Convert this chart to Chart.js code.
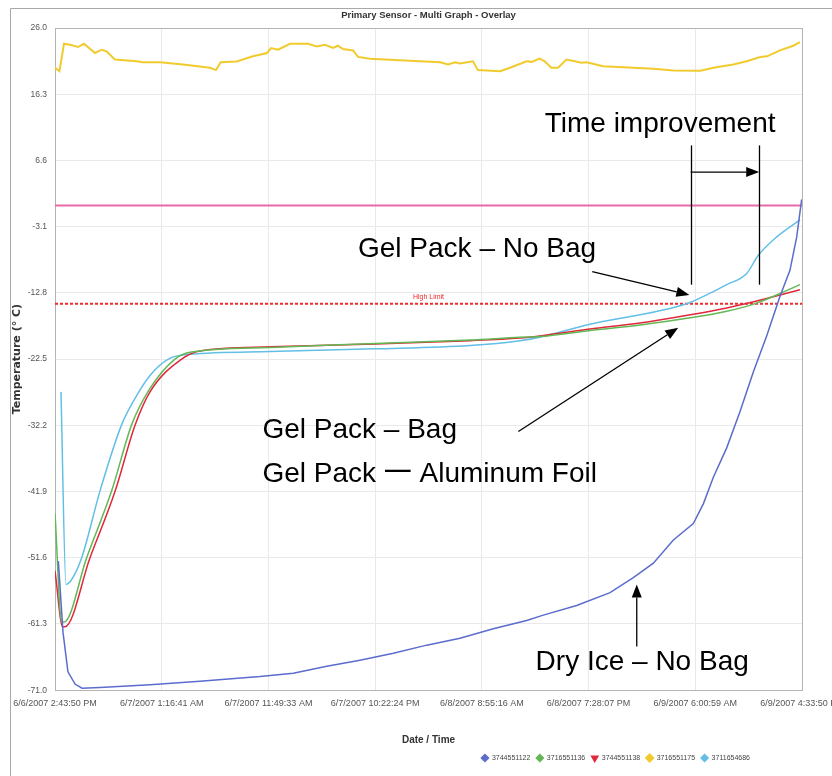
<!DOCTYPE html>
<html>
<head>
<meta charset="utf-8">
<title>Primary Sensor - Multi Graph - Overlay</title>
<script src="https://cdn.jsdelivr.net/npm/chart.js@4.4.1/dist/chart.umd.min.js"></script>
<style>
  html, body { margin: 0; padding: 0; background: #fff; overflow: hidden; }
  canvas { display: block; }
</style>
</head>
<body>
<canvas id="chart" width="832" height="776"></canvas>
<script>
// x values are hours after the first reading, 6/6/2007 2:43:50 PM
const X_TICK_LABELS = [
  '6/6/2007 2:43:50 PM', '6/7/2007 1:16:41 AM', '6/7/2007 11:49:33 AM', '6/7/2007 10:22:24 PM',
  '6/8/2007 8:55:16 AM', '6/8/2007 7:28:07 PM', '6/9/2007 6:00:59 AM', '6/9/2007 4:33:50 PM'
];
const X_TICK_STEP = 10 + 32 / 60 + 51 / 3600;   // 10:32:51 between labels
const Y_TICKS = [-71.0, -61.3, -51.6, -41.9, -32.2, -22.5, -12.8, -3.1, 6.6, 16.3, 26.0];

const SERIES_NAMES = ['3744551122', '3716551136', '3744551138', '3716551175', '3711654686'];

// 3744551122 - dry ice, no bag
const DRY_ICE_HOURS = [0.33, 0.79, 1.28, 1.98, 2.67, 4.45, 9.39, 14.33, 20.26, 23.55, 26.86, 30.15, 33.44,
  36.74, 40.03, 43.32, 46.62, 48.26, 51.56, 54.86, 57.16, 59.14, 61.12, 63.09, 64.08, 65.07, 66.39, 67.70,
  69.02, 70.34, 71.66, 72.64, 73.31, 73.80];
const DRY_ICE_TEMP = [-52.1, -62.5, -68.3, -70.1, -70.7, -70.6, -70.2, -69.7, -69.0, -68.5, -67.5, -66.6, -65.6,
  -64.4, -63.4, -62.0, -60.8, -60.0, -58.6, -56.7, -54.5, -52.4, -49.0, -46.6, -43.7, -39.8, -35.5, -30.2,
  -24.4, -19.1, -13.3, -9.5, -4.6, 0.9];

// 3716551136 - gel pack, aluminum foil
const FOIL_HOURS = [0, 0.66, 0.9, 3.13, 5.6, 7.58, 9.39, 11.86, 13.34, 21.25, 31.63, 41.02, 45.96, 47.9,
  52.88, 57.82, 62.8, 66.39, 69.36, 71.66, 73.63];
const FOIL_TEMP = [-45.1, -61.0, -61.0, -51.6, -41.8, -32.1, -26.8, -22.5, -21.5, -20.8, -20.2, -19.7, -19.3, -19.2,
  -18.3, -17.5, -16.45, -15.5, -14.3, -12.9, -11.6];

// 3744551138 - gel pack, bag
const BAG_HOURS = [0, 0.76, 0.99, 3.46, 5.93, 7.91, 9.39, 12.52, 14.33, 21.25, 31.63, 41.02, 45.96, 47.9,
  52.88, 57.82, 62.8, 66.39, 69.36, 71.66, 73.63];
const BAG_TEMP = [-53.5, -61.7, -61.7, -51.6, -41.9, -32.2, -27.3, -22.5, -21.3, -20.7, -20.3, -19.8, -19.4, -19.1,
  -18.1, -17.2, -16.0, -15.0, -14.0, -13.1, -12.35];

// 3716551175 - ambient
const AMBIENT_HOURS = [0, 0.44, 0.89, 1.48, 2.27, 2.87, 3.95, 4.61, 5.11, 5.93, 8.08, 8.67, 10.38, 12.65, 15.32,
  15.91, 16.38, 17.95, 19.57, 20.95, 21.35, 22.04, 23.23, 25.01, 25.87, 26.69, 27.48, 27.97, 28.47, 29.46,
  29.95, 31.14, 34.1, 36.08, 38.06, 38.85, 39.54, 40.03, 41.31, 41.8, 44.0, 44.97, 46.62, 47.11, 47.9, 48.4,
  49.06, 49.72, 50.55, 51.38, 52.04, 52.54, 54.18, 57.16, 59.14, 61.12, 63.8, 65.07, 67.05, 68.37, 69.7,
  70.38, 71.66, 72.97, 73.63];
const AMBIENT_TEMP = [20.17, 19.68, 23.69, 23.54, 23.21, 23.69, 22.34, 22.82, 22.57, 21.37, 21.13, 20.98, 20.98,
  20.65, 20.17, 19.83, 20.98, 21.09, 21.85, 22.34, 23.07, 22.82, 23.69, 23.69, 23.3, 23.54, 23.07, 23.4, 22.92,
  22.72, 21.76, 21.48, 21.27, 21.13, 20.98, 20.65, 20.98, 20.8, 21.13, 19.83, 19.68, 20.17, 21.13, 21.04, 21.52,
  21.13, 20.17, 20.17, 21.37, 21.13, 20.9, 20.98, 20.4, 20.17, 20.03, 19.78, 19.74, 20.17, 20.65, 21.13, 21.76,
  21.85, 22.72, 23.4, 23.93];

// 3711654686 - gel pack, no bag
const NO_BAG_HOURS = [0.59, 1.09, 1.55, 2.64, 4.45, 6.59, 7.74, 9.39, 11.2, 13.34, 21.25, 31.63, 41.02, 45.96,
  47.9, 52.88, 57.82, 60.46, 62.44, 64.41, 66.39, 68.37, 69.51, 71.33, 73.63];
const NO_BAG_TEMP = [-27.3, -55.5, -55.0, -51.6, -41.8, -32.1, -28.7, -24.9, -22.5, -21.8, -21.4, -21.0, -20.5,
  -19.8, -19.3, -17.4, -16.0, -15.2, -14.4, -13.1, -11.6, -9.95, -7.3, -4.6, -2.1];

const LIMIT_LINE = 0.0;
const HIGH_LIMIT = -14.4;

const X_MAX = (X_TICK_LABELS.length - 1) * X_TICK_STEP;

const FONT = "'Liberation Sans', Arial, sans-serif";
const GRID = '#e9e9e9';
const EDGE = '#b4b4b4';
const HIGH_LIMIT_COLOR = '#ee2a2a';

// callouts laid over the plot, in axis units (hours, °C)
const CALLOUTS = [
  { text: 'Time improvement', h: 48.4, t: 10.8 },
  { text: 'Gel Pack – No Bag', h: 29.95, t: -7.5 },
  { text: 'Gel Pack – Bag', h: 20.5, t: -34.0 },
  { text: 'Gel Pack 一 Aluminum Foil', h: 20.5, t: -40.5 },
  { text: 'Dry Ice – No Bag', h: 47.5, t: -68.1 }
];
const ARROWS = [
  { from: [53.1, -9.7], to: [62.7, -13.1] },
  { from: [45.8, -33.1], to: [61.6, -17.9] },
  { from: [57.5, -64.6], to: [57.5, -55.5] },
  { from: [62.83, 4.9], to: [69.6, 4.9] }
];
const MARKERS = [
  { h: 62.83, top: 8.8, bottom: -11.6 },
  { h: 69.6, top: 8.8, bottom: -11.6 }
];

function series(label, hours, temps, color, extra) {
  return Object.assign({
    label: label,
    data: hours.map((h, i) => ({ x: h, y: temps[i] })),
    borderColor: color,
    backgroundColor: color,
    borderWidth: 1.5,
    pointRadius: 0,
    pointStyle: 'rectRot',
    cubicInterpolationMode: 'monotone'
  }, extra || {});
}

function limit(label, value, color, extra) {
  return Object.assign({
    label: label,
    data: [{ x: 0, y: value }, { x: X_MAX, y: value }],
    borderColor: color,
    borderWidth: 2,
    pointRadius: 0
  }, extra || {});
}

function arrow(ctx, x1, y1, x2, y2) {
  const a = Math.atan2(y2 - y1, x2 - x1);
  const len = 13, half = 5;
  const bx = x2 - len * Math.cos(a), by = y2 - len * Math.sin(a);
  ctx.beginPath();
  ctx.moveTo(x1, y1);
  ctx.lineTo(bx, by);
  ctx.stroke();
  ctx.beginPath();
  ctx.moveTo(x2, y2);
  ctx.lineTo(bx + half * Math.sin(a), by - half * Math.cos(a));
  ctx.lineTo(bx - half * Math.sin(a), by + half * Math.cos(a));
  ctx.closePath();
  ctx.fill();
}

const frame = {
  id: 'frame',
  beforeDraw(chart) {
    const ctx = chart.ctx;
    ctx.save();
    ctx.fillStyle = '#fff';
    ctx.fillRect(0, 0, chart.width, chart.height);
    ctx.strokeStyle = '#a8a8a8';
    ctx.lineWidth = 1;
    ctx.beginPath();
    ctx.moveTo(10.5, chart.height);
    ctx.lineTo(10.5, 8.5);
    ctx.lineTo(chart.width, 8.5);
    ctx.stroke();
    ctx.restore();
  }
};

// pull the legend row in from the right edge
const legendShift = {
  id: 'legendShift',
  afterLayout(chart) {
    chart.legend.right -= 46;
  }
};

const notes = {
  id: 'notes',
  afterDatasetsDraw(chart) {
    const { ctx, chartArea, scales: { x, y } } = chart;
    const px = h => x.getPixelForValue(h);
    const py = v => y.getPixelForValue(v);
    ctx.save();

    ctx.fillStyle = HIGH_LIMIT_COLOR;
    ctx.font = '7px ' + FONT;
    ctx.textAlign = 'center';
    ctx.textBaseline = 'bottom';
    ctx.fillText('High Limit', (chartArea.left + chartArea.right) / 2, py(HIGH_LIMIT) - 3);

    ctx.fillStyle = '#000';
    ctx.strokeStyle = '#000';
    ctx.lineWidth = 1.3;
    ctx.font = "28px 'Liberation Sans', Arial, 'Noto Sans CJK SC', sans-serif";
    ctx.textAlign = 'left';
    ctx.textBaseline = 'alphabetic';
    CALLOUTS.forEach(c => ctx.fillText(c.text, px(c.h), py(c.t)));

    MARKERS.forEach(m => {
      ctx.beginPath();
      ctx.moveTo(Math.round(px(m.h)) + 0.5, py(m.top));
      ctx.lineTo(Math.round(px(m.h)) + 0.5, py(m.bottom));
      ctx.stroke();
    });
    ARROWS.forEach(a => arrow(ctx, px(a.from[0]), py(a.from[1]), px(a.to[0]), py(a.to[1])));
    ctx.restore();
  }
};

const straight = { cubicInterpolationMode: 'default', tension: 0 };

new Chart(document.getElementById('chart'), {
  type: 'line',
  data: {
    datasets: [
      series(SERIES_NAMES[0], DRY_ICE_HOURS, DRY_ICE_TEMP, '#5b6ccc', straight),
      series(SERIES_NAMES[1], FOIL_HOURS, FOIL_TEMP, '#62b855'),
      series(SERIES_NAMES[2], BAG_HOURS, BAG_TEMP, '#e0283c', { pointStyle: 'triangle', pointRotation: 180 }),
      series(SERIES_NAMES[3], AMBIENT_HOURS, AMBIENT_TEMP, '#f1cb2e', Object.assign({ borderWidth: 2 }, straight)),
      series(SERIES_NAMES[4], NO_BAG_HOURS, NO_BAG_TEMP, '#62bfe6'),
      limit('Limit', LIMIT_LINE, '#e86aa8'),
      limit('High Limit', HIGH_LIMIT, HIGH_LIMIT_COLOR, { borderDash: [3, 2] })
    ]
  },
  options: {
    responsive: false,
    animation: false,
    devicePixelRatio: 1,
    layout: { padding: { left: 10, right: 30, top: 0, bottom: 4.5 } },
    plugins: {
      title: {
        display: true,
        text: 'Primary Sensor - Multi Graph - Overlay',
        fullSize: false,
        color: '#333',
        font: { family: FONT, size: 9.5, weight: 'bold' },
        padding: { top: 10, bottom: 6.6 }
      },
      legend: {
        position: 'bottom',
        align: 'end',
        labels: {
          usePointStyle: true,
          boxHeight: 5,
          padding: 6,
          color: '#444',
          font: { family: FONT, size: 7 },
          filter: item => item.datasetIndex < SERIES_NAMES.length
        }
      },
      tooltip: { enabled: false }
    },
    scales: {
      x: {
        type: 'linear',
        min: 0,
        max: X_MAX,
        afterBuildTicks: s => { s.ticks = X_TICK_LABELS.map((_, i) => ({ value: i * X_TICK_STEP })); },
        afterFit: s => { s.paddingLeft = 0; s.paddingRight = 0; },
        ticks: {
          autoSkip: false,
          maxRotation: 0,
          minRotation: 0,
          padding: 8,
          color: '#555',
          font: { family: FONT, size: 9 },
          callback: (v, i) => X_TICK_LABELS[i]
        },
        grid: {
          drawTicks: false,
          color: c => c.index === X_TICK_LABELS.length - 1 ? EDGE : GRID
        },
        border: { color: EDGE },
        title: {
          display: true,
          text: 'Date / Time',
          color: '#333',
          font: { family: FONT, size: 10, weight: 'bold' },
          padding: { top: 17.5, bottom: 2 }
        }
      },
      y: {
        min: -71,
        max: 26,
        afterBuildTicks: s => { s.ticks = Y_TICKS.map(v => ({ value: v })); },
        afterFit: s => { s.width = 45; },
        ticks: {
          padding: 8,
          color: '#555',
          font: { family: FONT, size: 8.5 },
          callback: v => v.toFixed(1)
        },
        grid: {
          drawTicks: false,
          color: c => c.index === Y_TICKS.length - 1 ? EDGE : GRID
        },
        border: { color: EDGE },
        title: {
          display: true,
          text: 'Temperature (° C)',
          color: '#333',
          font: { family: "'DejaVu Sans', sans-serif", size: 11, weight: 'bold' },
          padding: { top: 1, bottom: 0 }
        }
      }
    }
  },
  plugins: [frame, legendShift, notes]
});
</script>
</body>
</html>
